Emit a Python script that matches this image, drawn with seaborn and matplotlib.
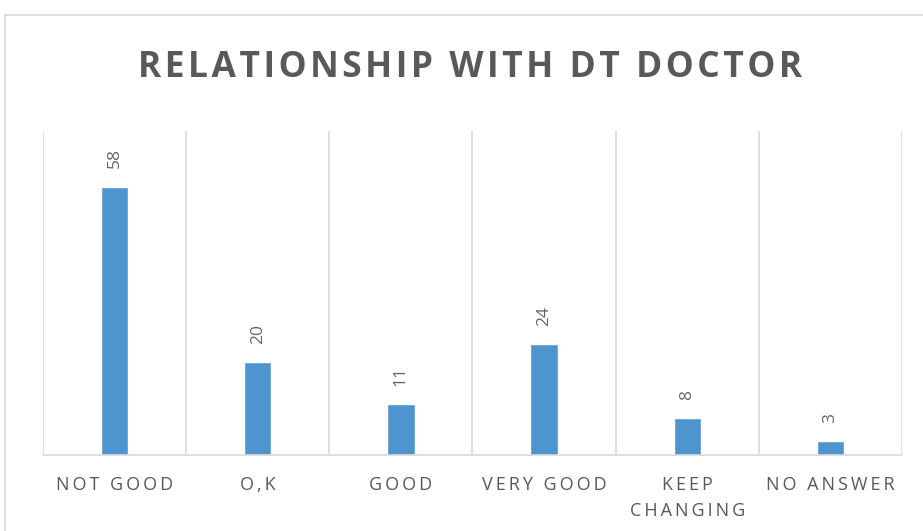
import matplotlib
matplotlib.use("Agg")
import matplotlib.pyplot as plt
import seaborn as sns
import pandas as pd
from matplotlib.patches import Rectangle

categories = ["NOT GOOD", "O,K", "GOOD", "VERY GOOD", "KEEP\nCHANGING", "NO ANSWER"]
counts = [58, 20, 11, 24, 8, 3]
title = "RELATIONSHIP WITH DT DOCTOR"

grey = "#595959"
bar_color = "#4E95D0"
grid_color = "#D9D9D9"


def spaced(s, sep="\u2009"):
    # fake letter spacing with thin spaces
    return "\n".join(sep.join(list(line)) for line in s.split("\n"))


sns.set_theme(style="white")
plt.rcParams["font.family"] = ["Open Sans", "DejaVu Sans"]

df = pd.DataFrame({"cat": categories, "n": counts})

fig = plt.figure(figsize=(9.23, 5.31), dpi=100)
ax = fig.add_axes([43 / 923, 1 - 455 / 531, (902 - 43) / 923, (455 - 131) / 531])

sns.barplot(data=df, x="cat", y="n", color=bar_color, width=0.19, saturation=1, ax=ax)

ax.set_ylim(0, 70)
ax.set_xlim(-0.5, len(categories) - 0.5)
ax.set_yticks([])
ax.set_xlabel("")
ax.set_ylabel("")

# category separators
ax.set_xticks([i - 0.5 for i in range(len(categories) + 1)], minor=True)
ax.grid(which="minor", axis="x", color=grid_color, linewidth=1.2)
ax.tick_params(axis="x", which="both", length=0, pad=15)
ax.set_xticks(range(len(categories)))
ax.set_xticklabels([spaced(c) for c in categories], fontsize=13, color=grey,
                   linespacing=1.6, va="top")

for s in ["top", "right", "left"]:
    ax.spines[s].set_visible(False)
ax.spines["bottom"].set_color(grid_color)
ax.spines["bottom"].set_linewidth(1.2)

for i, v in enumerate(counts):
    ax.annotate(str(v), (i, v), xytext=(0, 13), textcoords="offset points",
                rotation=90, ha="center", va="bottom", fontsize=12.5, color="#666666")

fig.text(470 / 923, 1 - 68 / 531, spaced(title, "\u200a"), ha="center", va="center",
         fontsize=25.5, fontweight="bold", color=grey)

# chart border
fig.patches.append(Rectangle((5 / 923, -0.05), 1.0, 1 - 15 / 531 + 0.05,
                             transform=fig.transFigure, fill=False,
                             edgecolor=grid_color, linewidth=1.2))

fig.savefig("out.png", dpi=100)
